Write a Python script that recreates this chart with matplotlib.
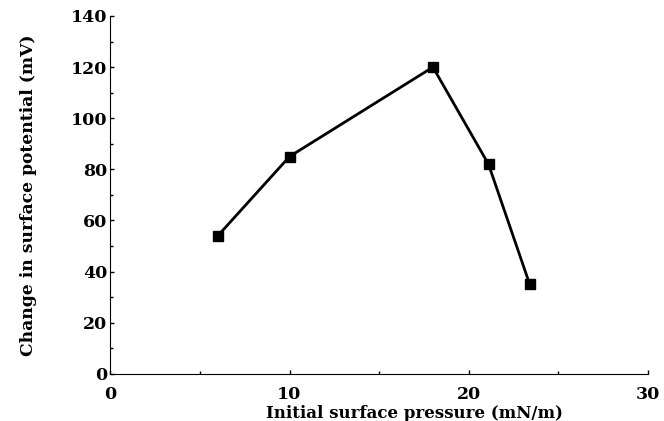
import numpy as np
from matplotlib import pyplot as plt

pressure = [6, 10, 18, 21.1, 23.4]
potential = [54, 85, 120, 82, 35]

plt.rcParams['font.family'] = 'DejaVu Serif'
plt.rcParams['font.weight'] = 'bold'

fig = plt.figure(figsize=(6.64, 4.21), dpi=100)
ax = fig.add_axes([0.166, 0.112, 0.81, 0.85])

ax.plot(pressure, potential, '-s', color='black', lw=2, ms=7)

ax.set_xlim(0, 30)
ax.set_ylim(0, 140)
ax.set_xticks([0, 10, 20, 30])
ax.set_yticks(np.arange(0, 141, 20))
ax.set_xticks([5, 15, 25], minor=True)
ax.set_yticks(np.arange(10, 141, 20), minor=True)
ax.tick_params(direction='in', length=3, width=1, labelsize=12.5, pad=2)
ax.tick_params(axis='x', pad=9)
ax.tick_params(which='minor', direction='in', length=2, width=1)
for s in ['top', 'right']:
    ax.spines[s].set_visible(False)

ax.set_xlabel('Initial surface pressure (mN/m)', fontsize=12, fontweight='bold')
ax.xaxis.set_label_coords(0.565, -0.088)
ax.set_ylabel('Change in surface potential (mV)', fontsize=12.3, fontweight='bold', labelpad=24)

plt.savefig('out.png', dpi=100)
